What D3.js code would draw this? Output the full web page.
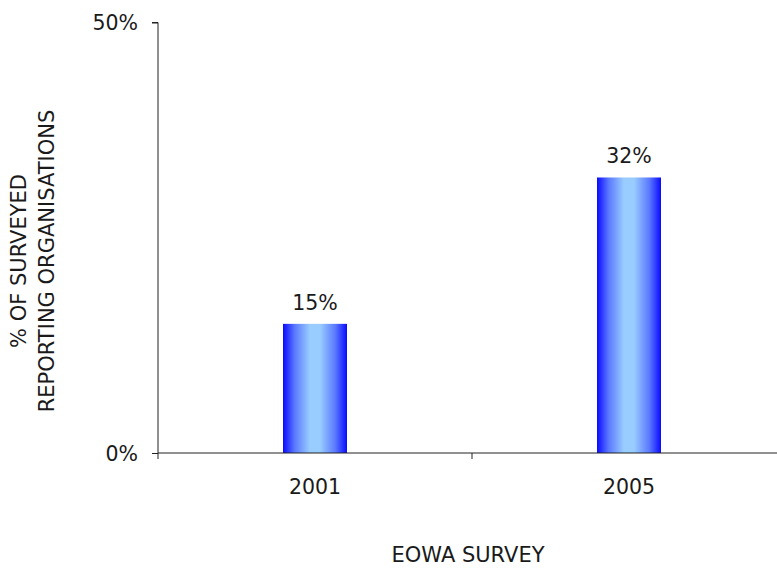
<!DOCTYPE html>
<html>
<head>
<meta charset="utf-8">
<script src="https://cdn.jsdelivr.net/npm/d3@7"></script>
<style>
  html, body { margin: 0; padding: 0; background: #fff; }
  svg { display: block; }
  text { font-family: "DejaVu Sans", Verdana, sans-serif; fill: #1a1a1a; }
</style>
</head>
<body>
<svg id="chart" width="777" height="568"></svg>
<script>
// Survey years and share of reporting organisations
const years = ["2001", "2005"];
const shares = [15, 32];
const yTicks = [0, 50];
const yTitleLines = ["% OF SURVEYED", "REPORTING ORGANISATIONS"];
const xTitle = "EOWA SURVEY";

const svg = d3.select("#chart");
const plotLeft = 158, plotTop = 22.5, plotW = 628, plotH = 430.5;
const numSize = 20.5, titleSize = 21;

const x = d3.scaleBand().domain(years).range([plotLeft, plotLeft + plotW]);
const y = d3.scaleLinear().domain([0, 50]).range([plotTop + plotH, plotTop]);

// Horizontal gradient: deep blue edges, pale blue centre
const grad = svg.append("defs").append("linearGradient")
  .attr("id", "barFill").attr("x1", "0%").attr("x2", "100%").attr("y1", "0%").attr("y2", "0%");
[[0, "#0a0aff"], [0.18, "#5a78ff"], [0.42, "#99ccff"], [0.58, "#99ccff"], [0.82, "#5a78ff"], [1, "#0a0aff"]]
  .forEach(([o, c]) => grad.append("stop").attr("offset", o).attr("stop-color", c));

const barW = 64;
svg.selectAll("rect.bar").data(years).join("rect")
  .attr("class", "bar")
  .attr("x", d => x(d) + x.bandwidth() / 2 - barW / 2)
  .attr("width", barW)
  .attr("y", (d, i) => y(shares[i]))
  .attr("height", (d, i) => y(0) - y(shares[i]))
  .attr("fill", "url(#barFill)");

// Value labels above bars
svg.selectAll("text.val").data(years).join("text")
  .attr("class", "val")
  .attr("x", d => x(d) + x.bandwidth() / 2)
  .attr("y", (d, i) => y(shares[i]) - 14)
  .attr("text-anchor", "middle")
  .attr("font-size", numSize)
  .text((d, i) => shares[i] + "%");

// Y axis
const yAxis = svg.append("g").attr("transform", `translate(${plotLeft},0)`)
  .call(d3.axisLeft(y).tickValues(yTicks).tickFormat(d => d + "%").tickSize(6).tickPadding(14));
yAxis.select(".domain").attr("stroke", "#222").attr("d", `M-6,${y(50)}H0V${y(0)}`);
yAxis.selectAll(".tick line").attr("stroke", "#222");
yAxis.selectAll(".tick text").attr("font-size", numSize).attr("font-family", "DejaVu Sans, Verdana, sans-serif").attr("fill", "#1a1a1a").attr("dy", "0.35em");

// X axis: ticks at category boundaries
const xAxisG = svg.append("g").attr("transform", `translate(0,${y(0)})`);
xAxisG.append("line").attr("x1", plotLeft).attr("x2", plotLeft + plotW).attr("stroke", "#222");
const bounds = years.map(d => x(d)).concat([plotLeft + plotW]);
xAxisG.selectAll("line.tk").data(bounds).join("line")
  .attr("class", "tk").attr("x1", d => d).attr("x2", d => d).attr("y1", 0).attr("y2", 6).attr("stroke", "#222");
xAxisG.selectAll("text.cat").data(years).join("text")
  .attr("class", "cat")
  .attr("x", d => x(d) + x.bandwidth() / 2)
  .attr("y", 41)
  .attr("text-anchor", "middle")
  .attr("font-size", numSize)
  .text(d => d);

// Axis titles
svg.append("text")
  .attr("x", 468).attr("y", 562)
  .attr("text-anchor", "middle").attr("font-size", titleSize)
  .text(xTitle);

const yt = svg.append("text")
  .attr("transform", "translate(26,261) rotate(-90)")
  .attr("text-anchor", "middle").attr("font-size", titleSize);
yTitleLines.forEach((t, i) => yt.append("tspan").attr("x", 0).attr("dy", i === 0 ? 0 : 28).text(t));
</script>
</body>
</html>
